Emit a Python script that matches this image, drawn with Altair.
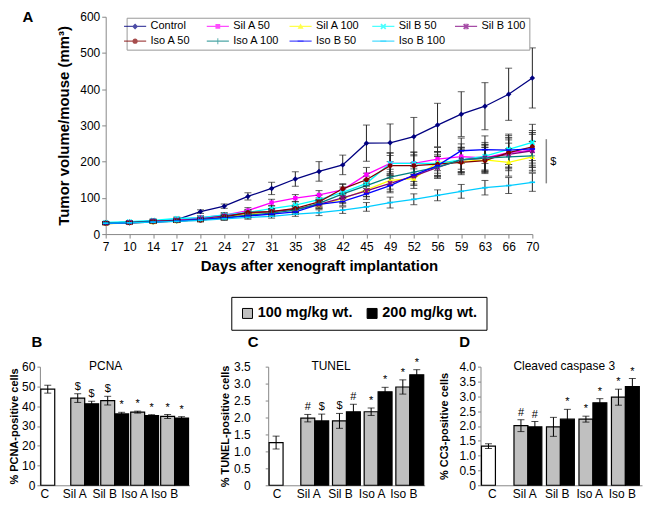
import altair as alt
import pandas as pd

FONT = "Liberation Sans"

# ---------------- Panel A data ----------------
days = [7, 10, 14, 17, 21, 24, 27, 31, 35, 38, 42, 45, 49, 52, 56, 59, 63, 66, 70]
series_names = ["Control", "Sil A 50", "Sil A 100", "Sil B 50", "Sil B 100",
                "Iso A 50", "Iso A 100", "Iso B 50", "Iso B 100"]
series_colors = ["#000080", "#FF00FF", "#FFFF00", "#00FFFF", "#800080",
                 "#800000", "#008080", "#0000FF", "#00CCFF"]

control = [30, 33, 35, 40, 62, 77, 104, 126, 152, 173, 191, 251, 252, 269, 301, 331, 353, 386, 431]
control_err = [3, 3, 4, 4, 5, 6, 10, 17, 20, 27, 27, 50, 52, 53, 60, 62, 65, 72, 83]
sil_a50 = [30, 32, 36, 40, 45, 52, 65, 87, 99, 108, 122, 164, 195, 195, 207, 214, 210, 225, 232]
sil_a50_err = [3, 3, 4, 4, 5, 6, 8, 9, 10, 12, 15, 20, 28, 30, 32, 35, 38, 42, 48]
sil_a100 = [28, 31, 33, 36, 40, 47, 55, 62, 68, 80, 98, 122, 148, 153, 198, 200, 205, 198, 213]
sil_a100_err = [3, 3, 3, 4, 4, 5, 6, 7, 8, 10, 14, 18, 24, 27, 30, 32, 35, 38, 42]
sil_b50 = [32, 34, 38, 43, 45, 53, 60, 70, 80, 95, 115, 140, 195, 195, 195, 205, 215, 234, 253]
sil_b50_err = [3, 3, 4, 4, 5, 6, 7, 8, 10, 12, 15, 20, 30, 32, 33, 35, 38, 42, 50]
sil_b100 = [30, 32, 36, 38, 42, 50, 58, 62, 68, 82, 100, 119, 140, 160, 184, 205, 210, 220, 230]
sil_b100_err = [3, 3, 3, 4, 4, 5, 6, 7, 8, 10, 13, 16, 22, 26, 30, 33, 36, 40, 45]
iso_a50 = [30, 31, 34, 37, 38, 47, 60, 62, 71, 89, 125, 150, 189, 189, 193, 198, 203, 225, 241]
iso_a50_err = [3, 3, 3, 4, 4, 5, 7, 8, 9, 11, 14, 18, 28, 30, 32, 34, 36, 40, 45]
iso_a100 = [31, 32, 34, 36, 40, 45, 52, 58, 66, 85, 111, 134, 157, 171, 185, 205, 210, 213, 216]
iso_a100_err = [3, 3, 3, 4, 4, 5, 6, 7, 8, 10, 13, 17, 22, 26, 30, 33, 36, 38, 40]
iso_b50 = [29, 31, 33, 36, 40, 44, 50, 55, 61, 82, 90, 111, 134, 163, 189, 230, 233, 232, 235]
iso_b50_err = [3, 3, 3, 4, 4, 5, 6, 6, 7, 10, 12, 15, 20, 25, 30, 35, 38, 40, 45]
iso_b100 = [30, 31, 33, 35, 38, 42, 46, 49, 55, 59, 66, 75, 87, 96, 107, 118, 128, 134, 143]
iso_b100_err = [3, 3, 3, 3, 4, 4, 5, 5, 6, 8, 9, 12, 15, 15, 15, 19, 20, 22, 25]

all_values = [control, sil_a50, sil_a100, sil_b50, sil_b100, iso_a50, iso_a100, iso_b50, iso_b100]
all_errors = [control_err, sil_a50_err, sil_a100_err, sil_b50_err, sil_b100_err,
              iso_a50_err, iso_a100_err, iso_b50_err, iso_b100_err]

# bracket with "$" at the right of panel A (value range)
bracket_lo, bracket_hi, bracket_label_at = 140, 262, 200

# ---------------- Panels B-D data ----------------
groups = ["C", "Sil A", "Sil B", "Iso A", "Iso B"]
treat_groups = groups[1:]
dose_labels = ["100 mg/kg wt.", "200 mg/kg wt."]

pcna_c, pcna_c_err = 48.6, 2.0
pcna_100 = [44.1, 42.8, 37.0, 34.8]
pcna_100_err = [2.2, 2.2, 0.5, 1.0]
pcna_200 = [41.2, 36.1, 35.2, 34.0]
pcna_200_err = [1.3, 0.8, 0.5, 0.7]
pcna_sig_100 = ["$", "$", "*", "*"]
pcna_sig_200 = ["$", "*", "*", "*"]

tunel_c, tunel_c_err = 1.26, 0.19
tunel_100 = [1.98, 1.90, 2.17, 2.90]
tunel_100_err = [0.11, 0.22, 0.11, 0.21]
tunel_200 = [1.90, 2.17, 2.76, 3.26]
tunel_200_err = [0.20, 0.22, 0.13, 0.15]
tunel_sig_100 = ["#", "$", "*", "*"]
tunel_sig_200 = ["$", "#", "*", "*"]

cc3_c, cc3_c_err = 1.32, 0.08
cc3_100 = [2.01, 1.97, 2.23, 2.97]
cc3_100_err = [0.20, 0.32, 0.10, 0.27]
cc3_200 = [1.97, 2.23, 2.78, 3.33]
cc3_200_err = [0.18, 0.33, 0.14, 0.27]
cc3_sig_100 = ["#", "", "*", "*"]
cc3_sig_200 = ["#", "*", "*", "*"]

# ---------------- marker shapes ----------------
DIAMOND = "M0,-1L1,0L0,1L-1,0Z"
SQUARE = "M-0.8,-0.8H0.8V0.8H-0.8Z"
TRIANGLE = "M0,-1L1,0.8H-1Z"
XMARK = "M-1,-0.6L-0.6,-1L0,-0.4L0.6,-1L1,-0.6L0.4,0L1,0.6L0.6,1L0,0.4L-0.6,1L-1,0.6L-0.4,0Z"
STAR = XMARK + "M-0.15,-1H0.15V1H-0.15Z"
CIRCLE = "M-0.9,0A0.9,0.9 0 1,1 0.9,0A0.9,0.9 0 1,1 -0.9,0Z"
PLUS = "M-1,-0.15H1V0.15H-1ZM-0.15,-1H0.15V1H-0.15Z"
DASH = "M-1,-0.3H1V0.3H-1Z"
marker_paths = [DIAMOND, SQUARE, TRIANGLE, XMARK, STAR, CIRCLE, PLUS, DASH, DASH]
LINE = "M-3.7,-0.2H3.7V0.2H-3.7Z"
legend_paths = [LINE + p for p in marker_paths]

# ---------------- Panel A ----------------
rows = []
for name, vals, errs in zip(series_names, all_values, all_errors):
    for d, v, e in zip(days, vals, errs):
        rows.append(dict(series=name, day=d, value=v, lo=v - e, hi=v + e))
dfA = pd.DataFrame(rows)

A_W, A_H = 428, 218
GRAY = "#888888"

xA = alt.X("day:O", sort=days,
           scale=alt.Scale(type="point", padding=0, domain=days),
           axis=alt.Axis(title="Days after xenograft implantation", labelAngle=0,
                         labelFontSize=12, labelFont=FONT, labelColor="black",
                         titleFont=FONT, titleFontSize=15, titleFontWeight="bold",
                         titleColor="black", titlePadding=7, tickSize=4, labelPadding=3,
                         domainColor=GRAY, tickColor=GRAY, grid=False))
yAxisA = alt.Axis(values=list(range(0, 601, 100)), title="Tumor volume/mouse (mm³)",
                  labelFontSize=12, labelFont=FONT, labelColor="black",
                  titleFont=FONT, titleFontSize=15, titleFontWeight="bold", titleColor="black",
                  titlePadding=8, tickSize=4, labelPadding=2, domainColor=GRAY,
                  tickColor=GRAY, grid=False)


def YA(field):
    return alt.Y(f"{field}:Q", scale=alt.Scale(domain=[0, 600], nice=False), axis=yAxisA)


color_scale = alt.Scale(domain=series_names, range=series_colors)
legA = alt.Legend(orient="none", legendX=21, legendY=1, columns=5, direction="horizontal",
                  title=None, symbolSize=36, symbolStrokeWidth=0, labelFontSize=11,
                  labelFont=FONT, labelOffset=10, rowPadding=3, columnPadding=9,
                  gridAlign="all", padding=3, strokeColor="#999999", fillColor="white",
                  labelLimit=200)

baseA = alt.Chart(dfA)
linesA = baseA.mark_line(strokeWidth=1.3).encode(
    x=xA, y=YA("value"), color=alt.Color("series:N", scale=color_scale, legend=None),
    order="day:Q")
errA = baseA.mark_rule(color="#222222", strokeWidth=1).encode(x=xA, y=YA("lo"), y2="hi:Q")
capHiA = baseA.mark_tick(color="#222222", size=7, thickness=1).encode(x=xA, y=YA("hi"))
capLoA = baseA.mark_tick(color="#222222", size=7, thickness=1).encode(x=xA, y=YA("lo"))
pointsA = baseA.mark_point(filled=True, size=30, opacity=1).encode(
    x=xA, y=YA("value"),
    color=alt.Color("series:N", scale=color_scale, legend=None),
    shape=alt.Shape("series:N", scale=alt.Scale(domain=series_names, range=marker_paths), legend=None))
legendLayerA = baseA.transform_filter("false").mark_point(filled=True).encode(
    x=xA, y=YA("value"),
    color=alt.Color("series:N", scale=color_scale, legend=legA),
    shape=alt.Shape("series:N", scale=alt.Scale(domain=series_names, range=legend_paths), legend=legA))

bracket_df = pd.DataFrame({"lo": [bracket_lo], "hi": [bracket_hi], "mid": [bracket_label_at], "t": ["$"]})
bracket = alt.Chart(bracket_df).mark_rule(color=GRAY, strokeWidth=1.5).encode(
    x=alt.value(A_W + 14), y=YA("lo"), y2="hi:Q")
bracket_txt = alt.Chart(bracket_df).mark_text(align="left", fontSize=11, font=FONT).encode(
    x=alt.value(A_W + 18), y=YA("mid"), text="t:N")

chartA = alt.layer(linesA, errA, capHiA, capLoA, pointsA, legendLayerA,
                   bracket, bracket_txt).resolve_scale(
    color="independent", shape="independent").properties(width=A_W, height=A_H)

# small view on the left that carries the panel letter "A"
letterA = alt.Chart(pd.DataFrame({"t": ["A"]})).mark_text(
    fontSize=15, fontWeight="bold", font=FONT, baseline="top", align="center").encode(
    x=alt.value(-12), y=alt.value(-7), text="t:N").properties(width=1, height=20)

top = alt.hconcat(letterA, chartA, spacing=14)


# ---------------- Panels B-D ----------------
def bar_frame(c, c_err, v100, e100, v200, e200, s100, s200):
    rws = [dict(group="C", slot="a", key="C", value=c, lo=c - c_err, hi=c + c_err, sig="")]
    for g, v, e, s in zip(treat_groups, v100, e100, s100):
        rws.append(dict(group=g, slot="a", key=dose_labels[0], value=v, lo=v - e, hi=v + e, sig=s))
    for g, v, e, s in zip(treat_groups, v200, e200, s200):
        rws.append(dict(group=g, slot="b", key=dose_labels[1], value=v, lo=v - e, hi=v + e, sig=s))
    return pd.DataFrame(rws)


fill_scale = alt.Scale(domain=dose_labels + ["C"], range=["#C0C0C0", "#000000", "#FFFFFF"])
fill_legend = alt.Legend(orient="none", legendX=192, legendY=281, direction="horizontal",
                         title=None, values=dose_labels, symbolType="square", symbolSize=100,
                         symbolStrokeColor="black", symbolStrokeWidth=1, labelFontSize=14.5,
                         labelFontWeight="bold", labelFont=FONT, labelOffset=3,
                         columnPadding=12, padding=9, strokeColor="black", fillColor="white",
                         labelLimit=300)

BAR_H = 119


def bar_panel(df, letter, title, ytitle, ymax, yvals, width, pad_inner, label_offset,
              label_pad, title_pad, letter_x, title_x, spacer_x=None):
    xs = alt.X("group:N", sort=groups,
               scale=alt.Scale(domain=groups, paddingInner=pad_inner, paddingOuter=0.03),
               axis=alt.Axis(title=None, labelAngle=0, ticks=False, labelOffset=label_offset,
                             labelFontSize=12, labelFont=FONT, labelColor="black",
                             domainColor=GRAY, labelPadding=3))
    xo = alt.XOffset("slot:N", scale=alt.Scale(domain=["a", "b"], paddingInner=0, paddingOuter=0))
    yax = alt.Axis(values=yvals, title=ytitle, grid=False, labelFontSize=12, labelFont=FONT,
                   labelColor="black", titleFont=FONT, titleFontSize=11, titleFontWeight="bold",
                   titleColor="black", titlePadding=title_pad, tickSize=3, labelPadding=label_pad,
                   domainColor=GRAY, tickColor=GRAY,
                   labelExpr="datum.value == 0 ? '0' : format(datum.value, '" +
                             (".0f" if ymax > 10 else ".1f") + "')")

    def Y(f):
        return alt.Y(f"{f}:Q", scale=alt.Scale(domain=[0, ymax], nice=False), axis=yax)

    base = alt.Chart(df)
    bars = base.mark_bar(stroke="black", strokeWidth=1.2).encode(
        x=xs, xOffset=xo, y=Y("value"),
        fill=alt.Fill("key:N", scale=fill_scale, legend=fill_legend))
    rules = base.mark_rule(color="black", strokeWidth=1).encode(x=xs, xOffset=xo, y=Y("lo"), y2="hi:Q")
    cap_hi = base.mark_tick(color="black", size=7, thickness=1).encode(x=xs, xOffset=xo, y=Y("hi"))
    cap_lo = base.mark_tick(color="black", size=7, thickness=1).encode(x=xs, xOffset=xo, y=Y("lo"))
    sig = base.mark_text(baseline="bottom", dy=-2, fontSize=11, font=FONT).encode(
        x=xs, xOffset=xo, y=Y("hi"), text="sig:N")
    let = alt.Chart(pd.DataFrame({"t": [letter]})).mark_text(
        fontSize=15, fontWeight="bold", font=FONT, align="center", baseline="middle").encode(
        x=alt.value(letter_x), y=alt.value(-25), text="t:N")
    ttl = alt.Chart(pd.DataFrame({"t": [title]})).mark_text(
        fontSize=12, font=FONT, align="center", baseline="middle").encode(
        x=alt.value(title_x), y=alt.value(-1), text="t:N")
    layers = [bars, rules, cap_hi, cap_lo, sig, let, ttl]
    if spacer_x is not None:
        layers.append(alt.Chart(pd.DataFrame({"t": [" "]})).mark_text(
            align="right", fontSize=10).encode(x=alt.value(spacer_x), y=alt.value(60), text="t:N"))
    return alt.layer(*layers).properties(width=width, height=BAR_H)


dfB = bar_frame(pcna_c, pcna_c_err, pcna_100, pcna_100_err, pcna_200, pcna_200_err,
                pcna_sig_100, pcna_sig_200)
dfC = bar_frame(tunel_c, tunel_c_err, tunel_100, tunel_100_err, tunel_200, tunel_200_err,
                tunel_sig_100, tunel_sig_200)
dfD = bar_frame(cc3_c, cc3_c_err, cc3_100, cc3_100_err, cc3_200, cc3_200_err,
                cc3_sig_100, cc3_sig_200)

chartB = bar_panel(dfB, "B", "PCNA", "% PCNA-positive cells", 60, list(range(0, 61, 10)),
                   150, 0.07, -10, 2, 2, -3, 66, spacer_x=166)
chartC = bar_panel(dfC, "C", "TUNEL", "% TUNEL-positive cells", 3.5,
                   [0, 0.5, 1.0, 1.5, 2.0, 2.5, 3.0, 3.5], 157, 0.12, -6, 15, 3, -15, 63)
chartD = bar_panel(dfD, "D", "Cleaved caspase 3", "% CC3-positive cells", 4.0,
                   [0, 0.5, 1.0, 1.5, 2.0, 2.5, 3.0, 3.5, 4.0], 162, 0.09, -4, 2, 9, -16, 84)

bottom = alt.hconcat(chartB, chartC, chartD, spacing=12)

chart = alt.vconcat(top, bottom, spacing=59).properties(
    padding=0).configure(font=FONT).configure_view(stroke="transparent")

chart.save("out.html", embed_options={"renderer": "svg", "actions": False})
